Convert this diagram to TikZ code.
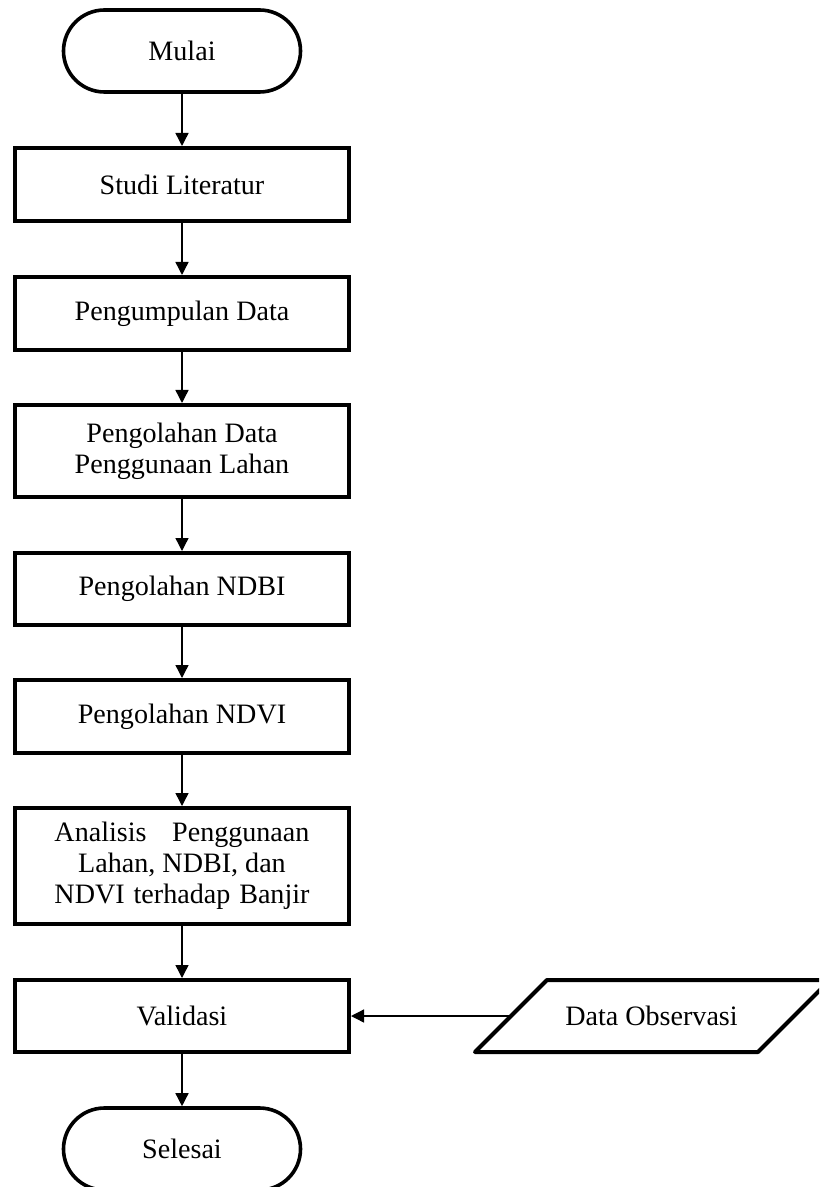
\documentclass[tikz,border=0pt]{standalone}
\usepackage{fontspec}
\setmainfont{Liberation Serif}
\usetikzlibrary{arrows.meta}

\begin{document}
\begin{tikzpicture}[x=0.5bp, y=-0.5bp,
  every node/.style={font=\fontsize{14.1}{15.5}\selectfont, align=center},
  proc/.style={draw, line width=2bp, minimum width=167bp, inner sep=2bp},
  term/.style={draw, line width=1.8bp, rounded corners=20.5bp, minimum width=118.5bp, minimum height=41bp},
  arr/.style={line width=0.7bp, -{Triangle[length=6.5bp,width=6.5bp]}}]
\useasboundingbox (0,0) rectangle (819,1187);
\clip (0,0) rectangle (819,1187);
\fill[white] (0,0) rectangle (819,1187);

% alur utama
\node[term] (mulai) at (182,51) {Mulai};
\node[proc, minimum height=36.5bp] (studi) at (182,184.5) {Studi Literatur};
\node[proc, minimum height=36.5bp] (kumpul) at (182,313.5) {Pengumpulan Data};
\node[proc, minimum height=46bp] (lahan) at (182,451) {Pengolahan Data\\Penggunaan Lahan};
\node[proc, minimum height=36bp] (ndbi) at (182,589) {Pengolahan NDBI};
\node[proc, minimum height=36.5bp] (ndvi) at (182,716.5) {Pengolahan NDVI};
\node[proc, minimum height=58bp] (analisis) at (182,866)
  {\makebox[127.5bp][s]{Analisis Penggunaan}\\Lahan, NDBI, dan\\\makebox[127.5bp][s]{NDVI terhadap Banjir}};
\node[proc, minimum height=36bp] (validasi) at (182,1016) {Validasi};
\node[term] (selesai) at (182,1149) {Selesai};

% data masukan (jajaran genjang)
\node (obs) at (651.5,1016) {Data Observasi};
\draw[line width=2bp, line join=round] (475,1052) -- (547,980) -- (830,980) -- (758,1052) -- cycle;
\coordinate (obsin) at (511,1016);

\foreach \a/\b in {mulai/studi, studi/kumpul, kumpul/lahan, lahan/ndbi, ndbi/ndvi,
  ndvi/analisis, analisis/validasi, validasi/selesai}
  \draw[arr] (\a) -- (\b);
\draw[arr] (obsin) -- (validasi.east);
\end{tikzpicture}
\end{document}
